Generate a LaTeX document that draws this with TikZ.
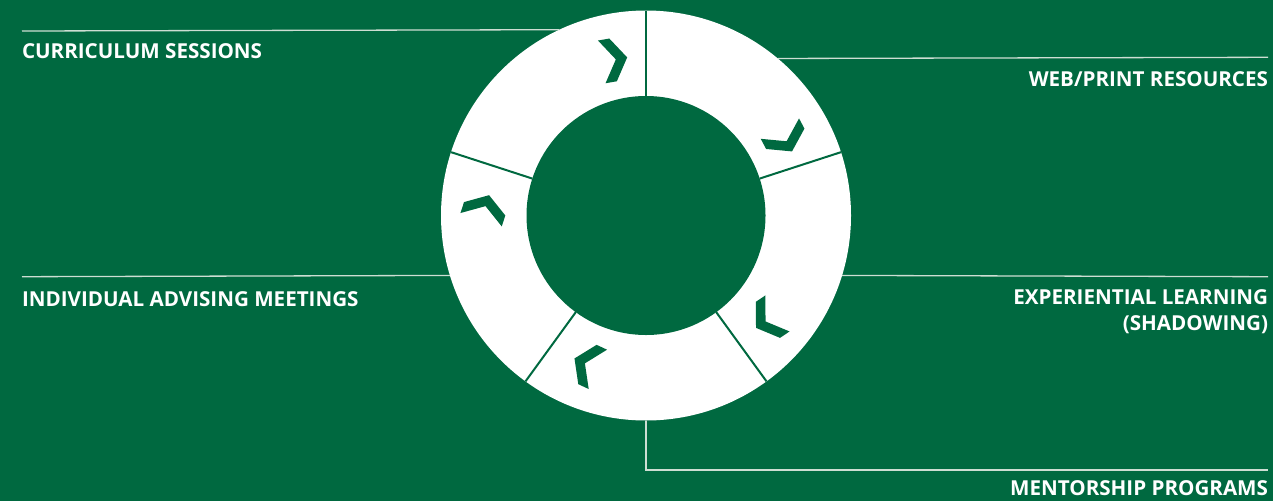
\documentclass[tikz,border=0pt]{standalone}
\usepackage{fontspec}
\setsansfont{Open Sans}
\usetikzlibrary{calc}
\definecolor{brandgreen}{RGB}{0,105,64}
\definecolor{leader}{RGB}{205,222,211}
\tikzset{
  lbl/.style={font=\sffamily\bfseries\fontsize{20.6}{25.5}\selectfont, text=white, inner sep=0pt, outer sep=0pt},
  leaderline/.style={draw=leader, line width=1.3pt},
  divider/.style={draw=brandgreen, line width=2pt},
  chev/.pic={\fill[brandgreen] (12.5,0) -- (-1.8,21.7) -- (-13.3,21.7) -- (1,0) -- (-13.3,-21.7) -- (-1.8,-21.7) -- cycle;}
}
\begin{document}
\begin{tikzpicture}[x=1pt,y=1pt]
\fill[brandgreen] (0,0) rectangle (1273,-501);
\useasboundingbox (0,0) rectangle (1273,-501);
% ring
\node[circle, fill=white, minimum size=410pt, inner sep=0pt, outer sep=0pt] (ring) at (646,-215.5) {};
\node[circle, fill=brandgreen, minimum size=239pt, inner sep=0pt, outer sep=0pt] (hole) at (646,-215.5) {};
% dividers
\foreach \a in {90,18,-54,-126,162} \draw[divider] (hole.\a) -- (ring.\a);
% chevrons
\pic[rotate=10] at ($(ring.center)+(101.3:159)$) {chev};
\pic[rotate=-62] at ($(ring.center)+(28.2:159)$) {chev};
\pic[rotate=-146] at ($(ring.center)+(-41.2:160)$) {chev};
\pic[rotate=155] at ($(ring.center)+(-112.1:160)$) {chev};
\pic[rotate=72] at ($(ring.center)+(177:161)$) {chev};
% labels
\node[lbl, anchor=base west] (cur) at (22,-58.5) {CURRICULUM SESSIONS};
\node[lbl, anchor=base east] (web) at (1268,-86) {WEB/PRINT RESOURCES};
\node[lbl, anchor=base west] (ind) at (22,-306.5) {INDIVIDUAL ADVISING MEETINGS};
\node[lbl, anchor=base east, align=right] (exp) at (1268,-330) {EXPERIENTIAL LEARNING\\(SHADOWING)};
\node[lbl, anchor=base east] (men) at (1268,-495) {MENTORSHIP PROGRAMS};
% leader coordinates
\coordinate (curL) at (22,-31);
\coordinate (webR) at (1268,-57.3);
\coordinate (indL) at (22,-276.7);
\coordinate (expR) at (1268,-276.7);
\coordinate (menK) at (646,-470);
\coordinate (menR) at (1268,-470);
% leaders
\draw[leaderline] (curL) -- (ring.115.84);
\draw[leaderline] (ring.50.5) -- (webR);
\draw[leaderline] (indL) -- (ring.197.37);
\draw[leaderline] (ring.-17.37) -- (expR);
\draw[leaderline] (ring.south) -- (menK) -- (menR);
\end{tikzpicture}
\end{document}
